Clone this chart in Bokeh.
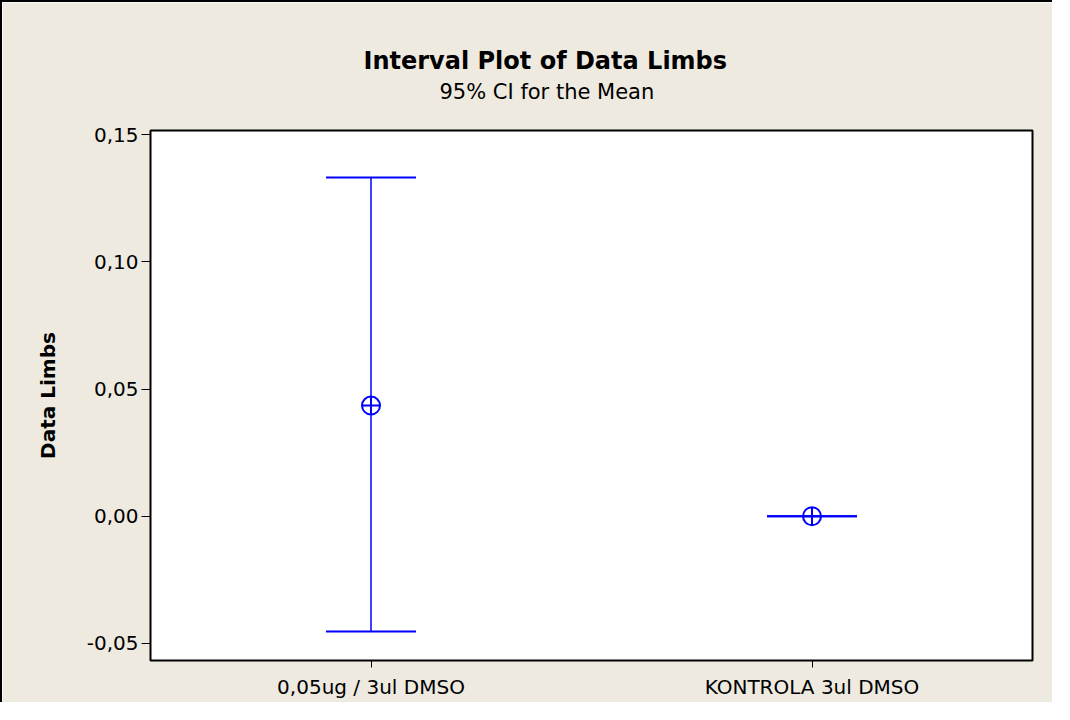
from bokeh.plotting import figure
from bokeh.models import (ColumnDataSource, FactorRange, Range1d, Whisker, TeeHead,
                          FixedTicker, CustomJSTickFormatter, Title)
from bokeh.embed import file_html
from bokeh.resources import INLINE

groups = ["0,05ug / 3ul DMSO", "KONTROLA 3ul DMSO"]
means = [0.0435, 0.0]
lower = [-0.0453, 0.0]
upper = [0.1331, 0.0]
ytick_values = [-0.05, 0.0, 0.05, 0.10, 0.15]

title_text = "Interval Plot of Data Limbs"
subtitle_text = "95% CI for the Mean"
ylabel_text = "Data Limbs"

FONT = "DejaVu Sans"
BLUE = "#0000FF"
BG = "#EEEAE0"

src = ColumnDataSource(dict(g=groups, m=means, lo=lower, hi=upper))

p = figure(width=1052, height=702, output_backend="svg", toolbar_location=None,
           x_range=FactorRange(*groups), y_range=Range1d(-0.0567, 0.1516),
           min_border_left=148, min_border_right=22, min_border_top=128,
           min_border_bottom=44)
p.styles = {"border-left": "2px solid black", "border-top": "2px solid black"}
p.background_fill_color = "white"
p.border_fill_color = BG
p.outline_line_color = "black"
p.outline_line_width = 2
p.xgrid.visible = False
p.ygrid.visible = False
p.x_range.range_padding = 0

w = Whisker(source=src, base="g", upper="hi", lower="lo", dimension="height",
            line_color=BLUE, line_width=1.5,
            upper_head=TeeHead(size=90, line_color=BLUE, line_width=2),
            lower_head=TeeHead(size=90, line_color=BLUE, line_width=2))
p.add_layout(w)
p.scatter("g", "m", source=src, marker="circle_cross", size=18,
          fill_color=None, line_color=BLUE, line_width=2)

for ax in (p.xaxis[0], p.yaxis[0]):
    ax.axis_line_color = None
    ax.major_tick_in = 0
    ax.major_tick_line_color = "black"
    ax.major_tick_line_width = 1
    ax.minor_tick_line_color = None
    ax.major_label_text_font = FONT
    ax.major_label_text_font_size = "20px"
    ax.major_label_text_color = "black"

p.yaxis.major_tick_out = 9
p.xaxis.major_tick_out = 7
p.yaxis.ticker = FixedTicker(ticks=ytick_values)
p.yaxis.formatter = CustomJSTickFormatter(code="return tick.toFixed(2).replace('.', ',');")
p.yaxis.axis_label = ylabel_text
p.yaxis.axis_label_text_font = FONT
p.yaxis.axis_label_text_font_style = "bold"
p.yaxis.axis_label_text_font_size = "20px"
p.yaxis.axis_label_text_color = "black"
p.yaxis.axis_label_standoff = 24
p.yaxis.major_label_standoff = 3
p.xaxis.major_label_standoff = 7

p.add_layout(Title(text=subtitle_text, align="left", offset=289, standoff=53,
                   text_font=FONT, text_font_size="21px", text_font_style="normal",
                   text_color="black"), "above")
p.add_layout(Title(text=title_text, align="left", offset=213, standoff=-47,
                   text_font=FONT, text_font_size="24px", text_font_style="bold",
                   text_color="black"), "above")

open("out.html", "w").write(file_html(p, INLINE))
